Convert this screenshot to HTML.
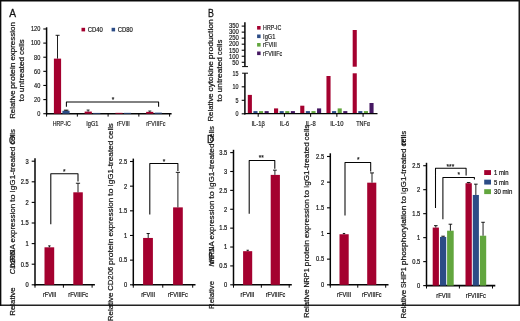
<!DOCTYPE html>
<html><head><meta charset="utf-8"><title>Figure</title>
<style>
html,body{margin:0;padding:0;background:#fff;}
svg{display:block;will-change:transform;opacity:0.999;font-family:"Liberation Sans",sans-serif;}
</style></head>
<body>
<svg width="520" height="321" viewBox="0 0 520 321">
<rect x="0" y="0" width="520" height="321" fill="#ffffff"/>
<rect x="0.00" y="0.00" width="520.00" height="1.50" fill="#0a0a0a"/>
<rect x="0.00" y="0.00" width="1.35" height="305.90" fill="#0a0a0a"/>
<rect x="0.00" y="304.55" width="520.00" height="1.35" fill="#0a0a0a"/>
<rect x="518.50" y="0.00" width="1.50" height="305.90" fill="#1a1a1a"/>
<text x="9.30" y="17.20" font-size="11.2" textLength="6.80" lengthAdjust="spacingAndGlyphs" fill="#141414" stroke="#141414" stroke-width="0.3">A</text>
<text transform="translate(14.80,118.80) rotate(-90)" font-size="8.1" textLength="28.30" lengthAdjust="spacingAndGlyphs" fill="#141414" stroke="#141414" stroke-width="0.22">Relative</text>
<text transform="translate(14.80,88.69) rotate(-90)" font-size="8.1" textLength="26.26" lengthAdjust="spacingAndGlyphs" fill="#141414" stroke="#141414" stroke-width="0.22">protein</text>
<text transform="translate(14.80,60.61) rotate(-90)" font-size="8.1" textLength="38.47" lengthAdjust="spacingAndGlyphs" fill="#141414" stroke="#141414" stroke-width="0.22">expression</text>
<text transform="translate(23.70,101.60) rotate(-90)" font-size="8.1" textLength="7.54" lengthAdjust="spacingAndGlyphs" fill="#141414" stroke="#141414" stroke-width="0.22">to</text>
<text transform="translate(23.70,92.25) rotate(-90)" font-size="8.1" textLength="35.48" lengthAdjust="spacingAndGlyphs" fill="#141414" stroke="#141414" stroke-width="0.22">untreated</text>
<text transform="translate(23.70,54.95) rotate(-90)" font-size="8.1" textLength="15.56" lengthAdjust="spacingAndGlyphs" fill="#141414" stroke="#141414" stroke-width="0.22">cells</text>
<line x1="46.60" y1="27.30" x2="46.60" y2="114.40" stroke="#050505" stroke-width="1.5"/>
<line x1="43.30" y1="113.70" x2="46.60" y2="113.70" stroke="#050505" stroke-width="1.1"/>
<text x="40.30" y="116.00" font-size="6.8" text-anchor="end" textLength="3.10" lengthAdjust="spacingAndGlyphs" fill="#141414" stroke="#141414" stroke-width="0.16">0</text>
<line x1="43.30" y1="99.58" x2="46.60" y2="99.58" stroke="#050505" stroke-width="1.1"/>
<text x="40.30" y="101.88" font-size="6.8" text-anchor="end" textLength="6.20" lengthAdjust="spacingAndGlyphs" fill="#141414" stroke="#141414" stroke-width="0.16">20</text>
<line x1="43.30" y1="85.46" x2="46.60" y2="85.46" stroke="#050505" stroke-width="1.1"/>
<text x="40.30" y="87.76" font-size="6.8" text-anchor="end" textLength="6.20" lengthAdjust="spacingAndGlyphs" fill="#141414" stroke="#141414" stroke-width="0.16">40</text>
<line x1="43.30" y1="71.34" x2="46.60" y2="71.34" stroke="#050505" stroke-width="1.1"/>
<text x="40.30" y="73.64" font-size="6.8" text-anchor="end" textLength="6.20" lengthAdjust="spacingAndGlyphs" fill="#141414" stroke="#141414" stroke-width="0.16">60</text>
<line x1="43.30" y1="57.22" x2="46.60" y2="57.22" stroke="#050505" stroke-width="1.1"/>
<text x="40.30" y="59.52" font-size="6.8" text-anchor="end" textLength="6.20" lengthAdjust="spacingAndGlyphs" fill="#141414" stroke="#141414" stroke-width="0.16">80</text>
<line x1="43.30" y1="43.10" x2="46.60" y2="43.10" stroke="#050505" stroke-width="1.1"/>
<text x="40.30" y="45.40" font-size="6.8" text-anchor="end" textLength="9.30" lengthAdjust="spacingAndGlyphs" fill="#141414" stroke="#141414" stroke-width="0.16">100</text>
<line x1="43.30" y1="28.98" x2="46.60" y2="28.98" stroke="#050505" stroke-width="1.1"/>
<text x="40.30" y="31.28" font-size="6.8" text-anchor="end" textLength="9.30" lengthAdjust="spacingAndGlyphs" fill="#141414" stroke="#141414" stroke-width="0.16">120</text>
<line x1="46.00" y1="113.70" x2="171.60" y2="113.70" stroke="#050505" stroke-width="1.6"/>
<line x1="46.60" y1="113.70" x2="46.60" y2="116.60" stroke="#050505" stroke-width="1.0"/>
<line x1="77.35" y1="113.70" x2="77.35" y2="116.60" stroke="#050505" stroke-width="1.0"/>
<line x1="108.10" y1="113.70" x2="108.10" y2="116.60" stroke="#050505" stroke-width="1.0"/>
<line x1="138.85" y1="113.70" x2="138.85" y2="116.60" stroke="#050505" stroke-width="1.0"/>
<line x1="169.60" y1="113.70" x2="169.60" y2="116.60" stroke="#050505" stroke-width="1.0"/>
<rect x="53.90" y="58.63" width="7.20" height="55.07" fill="#a4002f"/>
<rect x="62.40" y="110.81" width="7.20" height="2.89" fill="#2c4c86"/>
<rect x="84.65" y="111.58" width="7.20" height="2.12" fill="#a4002f"/>
<rect x="93.15" y="112.92" width="7.20" height="0.78" fill="#2c4c86"/>
<rect x="115.40" y="112.85" width="7.20" height="0.85" fill="#a4002f"/>
<rect x="123.90" y="112.85" width="7.20" height="0.85" fill="#2c4c86"/>
<rect x="146.15" y="111.86" width="7.20" height="1.84" fill="#a4002f"/>
<rect x="154.65" y="112.64" width="7.20" height="1.06" fill="#2c4c86"/>
<line x1="57.50" y1="58.60" x2="57.50" y2="35.30" stroke="#050505" stroke-width="0.9"/>
<line x1="55.60" y1="35.30" x2="59.60" y2="35.30" stroke="#050505" stroke-width="0.9"/>
<line x1="66.10" y1="110.80" x2="66.10" y2="109.90" stroke="#050505" stroke-width="1.0"/>
<line x1="63.90" y1="110.20" x2="68.40" y2="110.20" stroke="#050505" stroke-width="1.0"/>
<line x1="88.10" y1="111.60" x2="88.10" y2="110.00" stroke="#050505" stroke-width="0.9"/>
<line x1="86.60" y1="110.00" x2="89.60" y2="110.00" stroke="#050505" stroke-width="0.8"/>
<line x1="149.80" y1="111.90" x2="149.80" y2="111.00" stroke="#050505" stroke-width="0.9"/>
<line x1="148.30" y1="111.00" x2="151.30" y2="111.00" stroke="#050505" stroke-width="0.8"/>
<polyline points="66.40,106.80 66.40,101.95 158.60,101.95 158.60,106.80" fill="none" stroke="#050505" stroke-width="1.05" stroke-linejoin="round"/>
<text x="112.90" y="101.70" font-size="6.5" text-anchor="middle" fill="#141414" stroke="#141414" stroke-width="0.16">*</text>
<text x="61.70" y="125.70" font-size="6.8" text-anchor="middle" textLength="18.10" lengthAdjust="spacingAndGlyphs" fill="#141414" stroke="#141414" stroke-width="0.16">HRP-IC</text>
<text x="92.30" y="125.70" font-size="6.8" text-anchor="middle" textLength="12.20" lengthAdjust="spacingAndGlyphs" fill="#141414" stroke="#141414" stroke-width="0.16">IgG1</text>
<text x="123.30" y="125.70" font-size="6.8" text-anchor="middle" textLength="13.10" lengthAdjust="spacingAndGlyphs" fill="#141414" stroke="#141414" stroke-width="0.16">rFVIII</text>
<text x="155.80" y="125.70" font-size="6.8" text-anchor="middle" textLength="19.20" lengthAdjust="spacingAndGlyphs" fill="#141414" stroke="#141414" stroke-width="0.16">rFVIIIFc</text>
<rect x="81.50" y="27.80" width="3.60" height="3.60" fill="#a4002f"/>
<text x="87.80" y="31.70" font-size="6.4" textLength="15.10" lengthAdjust="spacingAndGlyphs" fill="#141414" stroke="#141414" stroke-width="0.16">CD40</text>
<rect x="111.60" y="27.80" width="3.50" height="3.60" fill="#2c4c86"/>
<text x="117.80" y="31.70" font-size="6.4" textLength="15.10" lengthAdjust="spacingAndGlyphs" fill="#141414" stroke="#141414" stroke-width="0.16">CD80</text>
<text x="207.90" y="17.20" font-size="11.2" textLength="5.90" lengthAdjust="spacingAndGlyphs" fill="#141414" stroke="#141414" stroke-width="0.3">B</text>
<text transform="translate(213.20,121.60) rotate(-90)" font-size="8.1" textLength="28.30" lengthAdjust="spacingAndGlyphs" fill="#141414" stroke="#141414" stroke-width="0.22">Relative</text>
<text transform="translate(213.20,91.49) rotate(-90)" font-size="8.1" textLength="30.47" lengthAdjust="spacingAndGlyphs" fill="#141414" stroke="#141414" stroke-width="0.22">cytokine</text>
<text transform="translate(213.20,59.20) rotate(-90)" font-size="8.1" textLength="40.06" lengthAdjust="spacingAndGlyphs" fill="#141414" stroke="#141414" stroke-width="0.22">production</text>
<text transform="translate(221.90,101.80) rotate(-90)" font-size="8.1" textLength="7.54" lengthAdjust="spacingAndGlyphs" fill="#141414" stroke="#141414" stroke-width="0.22">to</text>
<text transform="translate(221.90,92.45) rotate(-90)" font-size="8.1" textLength="35.48" lengthAdjust="spacingAndGlyphs" fill="#141414" stroke="#141414" stroke-width="0.22">untreated</text>
<text transform="translate(221.90,55.15) rotate(-90)" font-size="8.1" textLength="15.56" lengthAdjust="spacingAndGlyphs" fill="#141414" stroke="#141414" stroke-width="0.22">cells</text>
<line x1="244.90" y1="22.20" x2="244.90" y2="66.60" stroke="#050505" stroke-width="1.5"/>
<line x1="241.70" y1="26.10" x2="244.90" y2="26.10" stroke="#050505" stroke-width="1.1"/>
<text x="238.90" y="28.40" font-size="6.8" text-anchor="end" textLength="9.90" lengthAdjust="spacingAndGlyphs" fill="#141414" stroke="#141414" stroke-width="0.16">350</text>
<line x1="241.70" y1="32.13" x2="244.90" y2="32.13" stroke="#050505" stroke-width="1.1"/>
<text x="238.90" y="34.43" font-size="6.8" text-anchor="end" textLength="9.90" lengthAdjust="spacingAndGlyphs" fill="#141414" stroke="#141414" stroke-width="0.16">300</text>
<line x1="241.70" y1="38.16" x2="244.90" y2="38.16" stroke="#050505" stroke-width="1.1"/>
<text x="238.90" y="40.46" font-size="6.8" text-anchor="end" textLength="9.90" lengthAdjust="spacingAndGlyphs" fill="#141414" stroke="#141414" stroke-width="0.16">250</text>
<line x1="241.70" y1="44.19" x2="244.90" y2="44.19" stroke="#050505" stroke-width="1.1"/>
<text x="238.90" y="46.49" font-size="6.8" text-anchor="end" textLength="9.90" lengthAdjust="spacingAndGlyphs" fill="#141414" stroke="#141414" stroke-width="0.16">200</text>
<line x1="241.70" y1="50.22" x2="244.90" y2="50.22" stroke="#050505" stroke-width="1.1"/>
<text x="238.90" y="52.52" font-size="6.8" text-anchor="end" textLength="9.90" lengthAdjust="spacingAndGlyphs" fill="#141414" stroke="#141414" stroke-width="0.16">150</text>
<line x1="241.70" y1="56.25" x2="244.90" y2="56.25" stroke="#050505" stroke-width="1.1"/>
<text x="238.90" y="58.55" font-size="6.8" text-anchor="end" textLength="9.90" lengthAdjust="spacingAndGlyphs" fill="#141414" stroke="#141414" stroke-width="0.16">100</text>
<line x1="241.70" y1="62.28" x2="244.90" y2="62.28" stroke="#050505" stroke-width="1.1"/>
<text x="238.90" y="64.58" font-size="6.8" text-anchor="end" textLength="6.60" lengthAdjust="spacingAndGlyphs" fill="#141414" stroke="#141414" stroke-width="0.16">50</text>
<line x1="242.10" y1="66.60" x2="248.00" y2="66.60" stroke="#050505" stroke-width="1.0"/>
<line x1="242.10" y1="73.20" x2="248.00" y2="73.20" stroke="#050505" stroke-width="1.0"/>
<line x1="244.90" y1="73.20" x2="244.90" y2="114.50" stroke="#050505" stroke-width="1.5"/>
<line x1="241.70" y1="113.80" x2="244.90" y2="113.80" stroke="#050505" stroke-width="1.1"/>
<text x="238.50" y="116.30" font-size="6.8" text-anchor="end" textLength="3.00" lengthAdjust="spacingAndGlyphs" fill="#141414" stroke="#141414" stroke-width="0.16">0</text>
<line x1="241.70" y1="100.30" x2="244.90" y2="100.30" stroke="#050505" stroke-width="1.1"/>
<text x="238.50" y="102.80" font-size="6.8" text-anchor="end" textLength="3.00" lengthAdjust="spacingAndGlyphs" fill="#141414" stroke="#141414" stroke-width="0.16">5</text>
<line x1="241.70" y1="86.80" x2="244.90" y2="86.80" stroke="#050505" stroke-width="1.1"/>
<text x="238.50" y="89.30" font-size="6.8" text-anchor="end" textLength="6.00" lengthAdjust="spacingAndGlyphs" fill="#141414" stroke="#141414" stroke-width="0.16">10</text>
<text x="238.50" y="75.80" font-size="6.8" text-anchor="end" textLength="6.00" lengthAdjust="spacingAndGlyphs" fill="#141414" stroke="#141414" stroke-width="0.16">15</text>
<line x1="258.20" y1="113.80" x2="258.20" y2="116.80" stroke="#050505" stroke-width="1.0"/>
<line x1="284.42" y1="113.80" x2="284.42" y2="116.80" stroke="#050505" stroke-width="1.0"/>
<line x1="310.64" y1="113.80" x2="310.64" y2="116.80" stroke="#050505" stroke-width="1.0"/>
<line x1="336.86" y1="113.80" x2="336.86" y2="116.80" stroke="#050505" stroke-width="1.0"/>
<line x1="363.08" y1="113.80" x2="363.08" y2="116.80" stroke="#050505" stroke-width="1.0"/>
<rect x="247.80" y="94.90" width="4.10" height="18.90" fill="#a4002f"/>
<rect x="253.40" y="111.10" width="4.10" height="2.70" fill="#2c4c86"/>
<rect x="259.00" y="111.10" width="4.10" height="2.70" fill="#62a63e"/>
<rect x="264.60" y="111.10" width="4.10" height="2.70" fill="#451862"/>
<rect x="274.02" y="108.40" width="4.10" height="5.40" fill="#a4002f"/>
<rect x="279.62" y="111.10" width="4.10" height="2.70" fill="#2c4c86"/>
<rect x="285.22" y="111.10" width="4.10" height="2.70" fill="#62a63e"/>
<rect x="290.82" y="111.10" width="4.10" height="2.70" fill="#451862"/>
<rect x="300.24" y="105.70" width="4.10" height="8.10" fill="#a4002f"/>
<rect x="305.84" y="111.10" width="4.10" height="2.70" fill="#2c4c86"/>
<rect x="311.44" y="111.10" width="4.10" height="2.70" fill="#62a63e"/>
<rect x="317.04" y="108.40" width="4.10" height="5.40" fill="#451862"/>
<rect x="326.46" y="76.00" width="4.10" height="37.80" fill="#a4002f"/>
<rect x="332.06" y="111.10" width="4.10" height="2.70" fill="#2c4c86"/>
<rect x="337.66" y="108.40" width="4.10" height="5.40" fill="#62a63e"/>
<rect x="343.26" y="111.10" width="4.10" height="2.70" fill="#451862"/>
<rect x="352.68" y="73.30" width="4.10" height="40.50" fill="#a4002f"/>
<rect x="358.28" y="111.10" width="4.10" height="2.70" fill="#2c4c86"/>
<rect x="363.88" y="111.10" width="4.10" height="2.70" fill="#62a63e"/>
<rect x="369.48" y="103.00" width="4.10" height="10.80" fill="#451862"/>
<line x1="244.30" y1="113.60" x2="377.50" y2="113.60" stroke="#050505" stroke-width="1.2"/>
<rect x="352.68" y="30.00" width="4.10" height="36.70" fill="#a4002f"/>
<text x="258.20" y="125.80" font-size="6.8" text-anchor="middle" textLength="13.40" lengthAdjust="spacingAndGlyphs" fill="#141414" stroke="#141414" stroke-width="0.16">IL-1β</text>
<text x="284.42" y="125.80" font-size="6.8" text-anchor="middle" textLength="9.50" lengthAdjust="spacingAndGlyphs" fill="#141414" stroke="#141414" stroke-width="0.16">IL-6</text>
<text x="310.64" y="125.80" font-size="6.8" text-anchor="middle" textLength="10.00" lengthAdjust="spacingAndGlyphs" fill="#141414" stroke="#141414" stroke-width="0.16">IL-8</text>
<text x="336.86" y="125.80" font-size="6.8" text-anchor="middle" textLength="13.40" lengthAdjust="spacingAndGlyphs" fill="#141414" stroke="#141414" stroke-width="0.16">IL-10</text>
<text x="363.08" y="125.80" font-size="6.8" text-anchor="middle" textLength="13.80" lengthAdjust="spacingAndGlyphs" fill="#141414" stroke="#141414" stroke-width="0.16">TNFα</text>
<rect x="257.10" y="26.00" width="3.50" height="3.60" fill="#a4002f"/>
<text x="263.10" y="30.00" font-size="6.8" textLength="18.20" lengthAdjust="spacingAndGlyphs" fill="#141414" stroke="#141414" stroke-width="0.16">HRP-IC</text>
<rect x="257.10" y="34.50" width="3.50" height="3.60" fill="#2c4c86"/>
<text x="263.10" y="38.50" font-size="6.8" textLength="12.30" lengthAdjust="spacingAndGlyphs" fill="#141414" stroke="#141414" stroke-width="0.16">IgG1</text>
<rect x="257.10" y="43.00" width="3.50" height="3.60" fill="#62a63e"/>
<text x="263.10" y="47.00" font-size="6.8" textLength="13.70" lengthAdjust="spacingAndGlyphs" fill="#141414" stroke="#141414" stroke-width="0.16">rFVIII</text>
<rect x="257.10" y="51.50" width="3.50" height="3.60" fill="#451862"/>
<text x="263.10" y="55.50" font-size="6.8" textLength="19.10" lengthAdjust="spacingAndGlyphs" fill="#141414" stroke="#141414" stroke-width="0.16">rFVIIIFc</text>
<line x1="35.00" y1="158.20" x2="35.00" y2="285.50" stroke="#050505" stroke-width="1.5"/>
<line x1="31.70" y1="284.80" x2="35.00" y2="284.80" stroke="#050505" stroke-width="1.1"/>
<text x="28.80" y="287.15" font-size="7.2" text-anchor="end" textLength="3.20" lengthAdjust="spacingAndGlyphs" fill="#141414" stroke="#141414" stroke-width="0.22">0</text>
<line x1="31.70" y1="264.20" x2="35.00" y2="264.20" stroke="#050505" stroke-width="1.1"/>
<text x="28.80" y="266.55" font-size="7.2" text-anchor="end" textLength="8.00" lengthAdjust="spacingAndGlyphs" fill="#141414" stroke="#141414" stroke-width="0.22">0.5</text>
<line x1="31.70" y1="243.60" x2="35.00" y2="243.60" stroke="#050505" stroke-width="1.1"/>
<text x="28.80" y="245.95" font-size="7.2" text-anchor="end" textLength="3.20" lengthAdjust="spacingAndGlyphs" fill="#141414" stroke="#141414" stroke-width="0.22">1</text>
<line x1="31.70" y1="223.00" x2="35.00" y2="223.00" stroke="#050505" stroke-width="1.1"/>
<text x="28.80" y="225.35" font-size="7.2" text-anchor="end" textLength="8.00" lengthAdjust="spacingAndGlyphs" fill="#141414" stroke="#141414" stroke-width="0.22">1.5</text>
<line x1="31.70" y1="202.40" x2="35.00" y2="202.40" stroke="#050505" stroke-width="1.1"/>
<text x="28.80" y="204.75" font-size="7.2" text-anchor="end" textLength="3.20" lengthAdjust="spacingAndGlyphs" fill="#141414" stroke="#141414" stroke-width="0.22">2</text>
<line x1="31.70" y1="181.80" x2="35.00" y2="181.80" stroke="#050505" stroke-width="1.1"/>
<text x="28.80" y="184.15" font-size="7.2" text-anchor="end" textLength="8.00" lengthAdjust="spacingAndGlyphs" fill="#141414" stroke="#141414" stroke-width="0.22">2.5</text>
<line x1="31.70" y1="161.20" x2="35.00" y2="161.20" stroke="#050505" stroke-width="1.1"/>
<text x="28.80" y="163.55" font-size="7.2" text-anchor="end" textLength="3.20" lengthAdjust="spacingAndGlyphs" fill="#141414" stroke="#141414" stroke-width="0.22">3</text>
<line x1="34.40" y1="284.80" x2="94.90" y2="284.80" stroke="#050505" stroke-width="1.6"/>
<line x1="35.00" y1="284.80" x2="35.00" y2="287.70" stroke="#050505" stroke-width="1.0"/>
<line x1="63.40" y1="284.80" x2="63.40" y2="287.70" stroke="#050505" stroke-width="1.0"/>
<line x1="92.10" y1="284.80" x2="92.10" y2="287.70" stroke="#050505" stroke-width="1.0"/>
<rect x="44.50" y="247.31" width="9.70" height="37.49" fill="#a4002f"/>
<rect x="73.30" y="192.31" width="9.50" height="92.49" fill="#a4002f"/>
<line x1="49.40" y1="247.31" x2="49.40" y2="245.87" stroke="#050505" stroke-width="0.9"/>
<line x1="48.20" y1="245.87" x2="50.60" y2="245.87" stroke="#050505" stroke-width="0.9"/>
<line x1="78.00" y1="192.31" x2="78.00" y2="183.24" stroke="#050505" stroke-width="0.9"/>
<line x1="75.90" y1="183.24" x2="80.10" y2="183.24" stroke="#050505" stroke-width="0.9"/>
<polyline points="50.80,224.30 50.80,173.80 78.00,173.80 78.00,181.50" fill="none" stroke="#050505" stroke-width="1.05" stroke-linejoin="round"/>
<text x="64.30" y="173.80" font-size="6.5" text-anchor="middle" fill="#141414" stroke="#141414" stroke-width="0.16">*</text>
<text x="49.70" y="297.10" font-size="7.2" text-anchor="middle" textLength="13.40" lengthAdjust="spacingAndGlyphs" fill="#141414" stroke="#141414" stroke-width="0.22">rFVIII</text>
<text x="78.20" y="297.10" font-size="7.2" text-anchor="middle" textLength="19.80" lengthAdjust="spacingAndGlyphs" fill="#141414" stroke="#141414" stroke-width="0.22">rFVIIIFc</text>
<text x="9.00" y="144.30" font-size="11.2" textLength="6.20" lengthAdjust="spacingAndGlyphs" fill="#141414" stroke="#141414" stroke-width="0.3">C</text>
<text transform="translate(14.60,315.70) rotate(-90)" font-size="8.1" textLength="28.30" lengthAdjust="spacingAndGlyphs" fill="#141414" stroke="#141414" stroke-width="0.22">Relative</text>
<text transform="translate(14.60,274.20) rotate(-90)" font-size="8.1" textLength="23.40" lengthAdjust="spacingAndGlyphs" font-style="italic" fill="#141414" stroke="#141414" stroke-width="0.22">CD206</text>
<text transform="translate(14.60,267.20) rotate(-90)" font-size="8.1" textLength="22.83" lengthAdjust="spacingAndGlyphs" fill="#141414" stroke="#141414" stroke-width="0.22">mRNA</text>
<text transform="translate(14.60,242.54) rotate(-90)" font-size="8.1" textLength="38.80" lengthAdjust="spacingAndGlyphs" fill="#141414" stroke="#141414" stroke-width="0.22">expression</text>
<text transform="translate(14.60,201.91) rotate(-90)" font-size="8.1" textLength="7.60" lengthAdjust="spacingAndGlyphs" fill="#141414" stroke="#141414" stroke-width="0.22">to</text>
<text transform="translate(14.60,192.47) rotate(-90)" font-size="8.1" textLength="45.80" lengthAdjust="spacingAndGlyphs" fill="#141414" stroke="#141414" stroke-width="0.22">IgG1-treated</text>
<text transform="translate(14.60,144.84) rotate(-90)" font-size="8.1" textLength="15.70" lengthAdjust="spacingAndGlyphs" fill="#141414" stroke="#141414" stroke-width="0.22">cells</text>
<line x1="133.30" y1="158.60" x2="133.30" y2="285.50" stroke="#050505" stroke-width="1.5"/>
<line x1="130.00" y1="284.80" x2="133.30" y2="284.80" stroke="#050505" stroke-width="1.1"/>
<text x="127.10" y="287.15" font-size="7.2" text-anchor="end" textLength="3.20" lengthAdjust="spacingAndGlyphs" fill="#141414" stroke="#141414" stroke-width="0.22">0</text>
<line x1="130.00" y1="260.14" x2="133.30" y2="260.14" stroke="#050505" stroke-width="1.1"/>
<text x="127.10" y="262.49" font-size="7.2" text-anchor="end" textLength="8.00" lengthAdjust="spacingAndGlyphs" fill="#141414" stroke="#141414" stroke-width="0.22">0.5</text>
<line x1="130.00" y1="235.48" x2="133.30" y2="235.48" stroke="#050505" stroke-width="1.1"/>
<text x="127.10" y="237.83" font-size="7.2" text-anchor="end" textLength="3.20" lengthAdjust="spacingAndGlyphs" fill="#141414" stroke="#141414" stroke-width="0.22">1</text>
<line x1="130.00" y1="210.82" x2="133.30" y2="210.82" stroke="#050505" stroke-width="1.1"/>
<text x="127.10" y="213.17" font-size="7.2" text-anchor="end" textLength="8.00" lengthAdjust="spacingAndGlyphs" fill="#141414" stroke="#141414" stroke-width="0.22">1.5</text>
<line x1="130.00" y1="186.16" x2="133.30" y2="186.16" stroke="#050505" stroke-width="1.1"/>
<text x="127.10" y="188.51" font-size="7.2" text-anchor="end" textLength="3.20" lengthAdjust="spacingAndGlyphs" fill="#141414" stroke="#141414" stroke-width="0.22">2</text>
<line x1="130.00" y1="161.50" x2="133.30" y2="161.50" stroke="#050505" stroke-width="1.1"/>
<text x="127.10" y="163.85" font-size="7.2" text-anchor="end" textLength="8.00" lengthAdjust="spacingAndGlyphs" fill="#141414" stroke="#141414" stroke-width="0.22">2.5</text>
<line x1="132.70" y1="284.80" x2="195.50" y2="284.80" stroke="#050505" stroke-width="1.6"/>
<line x1="133.30" y1="284.80" x2="133.30" y2="287.70" stroke="#050505" stroke-width="1.0"/>
<line x1="162.75" y1="284.80" x2="162.75" y2="287.70" stroke="#050505" stroke-width="1.0"/>
<line x1="192.70" y1="284.80" x2="192.70" y2="287.70" stroke="#050505" stroke-width="1.0"/>
<rect x="143.10" y="237.95" width="9.80" height="46.85" fill="#a4002f"/>
<rect x="173.10" y="207.37" width="9.70" height="77.43" fill="#a4002f"/>
<line x1="148.20" y1="237.95" x2="148.20" y2="233.51" stroke="#050505" stroke-width="0.9"/>
<line x1="146.60" y1="233.51" x2="149.80" y2="233.51" stroke="#050505" stroke-width="0.9"/>
<line x1="177.90" y1="207.37" x2="177.90" y2="172.35" stroke="#050505" stroke-width="0.9"/>
<line x1="175.80" y1="172.35" x2="180.00" y2="172.35" stroke="#050505" stroke-width="0.9"/>
<polyline points="149.80,214.50 149.80,163.40 177.90,163.40 177.90,170.90" fill="none" stroke="#050505" stroke-width="1.05" stroke-linejoin="round"/>
<text x="163.90" y="163.80" font-size="6.5" text-anchor="middle" fill="#141414" stroke="#141414" stroke-width="0.16">*</text>
<text x="148.10" y="297.10" font-size="7.2" text-anchor="middle" textLength="13.90" lengthAdjust="spacingAndGlyphs" fill="#141414" stroke="#141414" stroke-width="0.22">rFVIII</text>
<text x="177.90" y="297.10" font-size="7.2" text-anchor="middle" textLength="19.80" lengthAdjust="spacingAndGlyphs" fill="#141414" stroke="#141414" stroke-width="0.22">rFVIIIFc</text>
<text transform="translate(112.60,321.20) rotate(-90)" font-size="8.1" textLength="28.55" lengthAdjust="spacingAndGlyphs" fill="#141414" stroke="#141414" stroke-width="0.22">Relative</text>
<text transform="translate(112.60,290.82) rotate(-90)" font-size="8.1" textLength="24.06" lengthAdjust="spacingAndGlyphs" fill="#141414" stroke="#141414" stroke-width="0.22">CD206</text>
<text transform="translate(112.60,264.93) rotate(-90)" font-size="8.1" textLength="26.49" lengthAdjust="spacingAndGlyphs" fill="#141414" stroke="#141414" stroke-width="0.22">protein</text>
<text transform="translate(112.60,236.61) rotate(-90)" font-size="8.1" textLength="38.80" lengthAdjust="spacingAndGlyphs" fill="#141414" stroke="#141414" stroke-width="0.22">expression</text>
<text transform="translate(112.60,195.97) rotate(-90)" font-size="8.1" textLength="7.60" lengthAdjust="spacingAndGlyphs" fill="#141414" stroke="#141414" stroke-width="0.22">to</text>
<text transform="translate(112.60,186.54) rotate(-90)" font-size="8.1" textLength="45.80" lengthAdjust="spacingAndGlyphs" fill="#141414" stroke="#141414" stroke-width="0.22">IgG1-treated</text>
<text transform="translate(112.60,138.90) rotate(-90)" font-size="8.1" textLength="15.70" lengthAdjust="spacingAndGlyphs" fill="#141414" stroke="#141414" stroke-width="0.22">cells</text>
<line x1="233.50" y1="149.80" x2="233.50" y2="285.50" stroke="#050505" stroke-width="1.5"/>
<line x1="230.20" y1="284.80" x2="233.50" y2="284.80" stroke="#050505" stroke-width="1.1"/>
<text x="227.30" y="287.15" font-size="7.2" text-anchor="end" textLength="3.20" lengthAdjust="spacingAndGlyphs" fill="#141414" stroke="#141414" stroke-width="0.22">0</text>
<line x1="230.20" y1="265.91" x2="233.50" y2="265.91" stroke="#050505" stroke-width="1.1"/>
<text x="227.30" y="268.26" font-size="7.2" text-anchor="end" textLength="8.00" lengthAdjust="spacingAndGlyphs" fill="#141414" stroke="#141414" stroke-width="0.22">0.5</text>
<line x1="230.20" y1="247.03" x2="233.50" y2="247.03" stroke="#050505" stroke-width="1.1"/>
<text x="227.30" y="249.38" font-size="7.2" text-anchor="end" textLength="3.20" lengthAdjust="spacingAndGlyphs" fill="#141414" stroke="#141414" stroke-width="0.22">1</text>
<line x1="230.20" y1="228.14" x2="233.50" y2="228.14" stroke="#050505" stroke-width="1.1"/>
<text x="227.30" y="230.49" font-size="7.2" text-anchor="end" textLength="8.00" lengthAdjust="spacingAndGlyphs" fill="#141414" stroke="#141414" stroke-width="0.22">1.5</text>
<line x1="230.20" y1="209.26" x2="233.50" y2="209.26" stroke="#050505" stroke-width="1.1"/>
<text x="227.30" y="211.61" font-size="7.2" text-anchor="end" textLength="3.20" lengthAdjust="spacingAndGlyphs" fill="#141414" stroke="#141414" stroke-width="0.22">2</text>
<line x1="230.20" y1="190.37" x2="233.50" y2="190.37" stroke="#050505" stroke-width="1.1"/>
<text x="227.30" y="192.72" font-size="7.2" text-anchor="end" textLength="8.00" lengthAdjust="spacingAndGlyphs" fill="#141414" stroke="#141414" stroke-width="0.22">2.5</text>
<line x1="230.20" y1="171.49" x2="233.50" y2="171.49" stroke="#050505" stroke-width="1.1"/>
<text x="227.30" y="173.84" font-size="7.2" text-anchor="end" textLength="3.20" lengthAdjust="spacingAndGlyphs" fill="#141414" stroke="#141414" stroke-width="0.22">3</text>
<line x1="230.20" y1="152.60" x2="233.50" y2="152.60" stroke="#050505" stroke-width="1.1"/>
<text x="227.30" y="154.95" font-size="7.2" text-anchor="end" textLength="8.00" lengthAdjust="spacingAndGlyphs" fill="#141414" stroke="#141414" stroke-width="0.22">3.5</text>
<line x1="232.90" y1="284.80" x2="291.80" y2="284.80" stroke="#050505" stroke-width="1.6"/>
<line x1="233.50" y1="284.80" x2="233.50" y2="287.70" stroke="#050505" stroke-width="1.0"/>
<line x1="261.35" y1="284.80" x2="261.35" y2="287.70" stroke="#050505" stroke-width="1.0"/>
<line x1="289.20" y1="284.80" x2="289.20" y2="287.70" stroke="#050505" stroke-width="1.0"/>
<rect x="243.10" y="251.18" width="9.10" height="33.62" fill="#a4002f"/>
<rect x="270.70" y="174.89" width="9.20" height="109.91" fill="#a4002f"/>
<line x1="247.70" y1="251.18" x2="247.70" y2="250.24" stroke="#050505" stroke-width="0.9"/>
<line x1="246.50" y1="250.24" x2="248.90" y2="250.24" stroke="#050505" stroke-width="0.9"/>
<line x1="274.90" y1="174.89" x2="274.90" y2="170.16" stroke="#050505" stroke-width="0.9"/>
<line x1="273.00" y1="170.16" x2="276.80" y2="170.16" stroke="#050505" stroke-width="0.9"/>
<polyline points="249.20,213.70 249.20,160.40 274.80,160.40 274.80,168.70" fill="none" stroke="#050505" stroke-width="1.05" stroke-linejoin="round"/>
<text x="261.30" y="159.80" font-size="6.5" text-anchor="middle" fill="#141414" stroke="#141414" stroke-width="0.16">**</text>
<text x="247.50" y="297.10" font-size="7.2" text-anchor="middle" textLength="13.90" lengthAdjust="spacingAndGlyphs" fill="#141414" stroke="#141414" stroke-width="0.22">rFVIII</text>
<text x="275.50" y="297.10" font-size="7.2" text-anchor="middle" textLength="19.60" lengthAdjust="spacingAndGlyphs" fill="#141414" stroke="#141414" stroke-width="0.22">rFVIIIFc</text>
<text x="207.00" y="143.40" font-size="11.2" textLength="7.00" lengthAdjust="spacingAndGlyphs" fill="#141414" stroke="#141414" stroke-width="0.3">D</text>
<text transform="translate(213.50,308.90) rotate(-90)" font-size="8.1" textLength="27.90" lengthAdjust="spacingAndGlyphs" fill="#141414" stroke="#141414" stroke-width="0.22">Relative</text>
<text transform="translate(213.50,266.50) rotate(-90)" font-size="8.1" textLength="18.70" lengthAdjust="spacingAndGlyphs" font-style="italic" fill="#141414" stroke="#141414" stroke-width="0.22">NRP1</text>
<text transform="translate(213.50,264.10) rotate(-90)" font-size="8.1" textLength="22.83" lengthAdjust="spacingAndGlyphs" fill="#141414" stroke="#141414" stroke-width="0.22">mRNA</text>
<text transform="translate(213.50,239.44) rotate(-90)" font-size="8.1" textLength="38.80" lengthAdjust="spacingAndGlyphs" fill="#141414" stroke="#141414" stroke-width="0.22">expression</text>
<text transform="translate(213.50,198.81) rotate(-90)" font-size="8.1" textLength="7.60" lengthAdjust="spacingAndGlyphs" fill="#141414" stroke="#141414" stroke-width="0.22">to</text>
<text transform="translate(213.50,189.37) rotate(-90)" font-size="8.1" textLength="45.80" lengthAdjust="spacingAndGlyphs" fill="#141414" stroke="#141414" stroke-width="0.22">IgG1-treated</text>
<text transform="translate(213.50,141.74) rotate(-90)" font-size="8.1" textLength="15.70" lengthAdjust="spacingAndGlyphs" fill="#141414" stroke="#141414" stroke-width="0.22">cells</text>
<line x1="330.30" y1="153.30" x2="330.30" y2="285.50" stroke="#050505" stroke-width="1.5"/>
<line x1="327.00" y1="284.80" x2="330.30" y2="284.80" stroke="#050505" stroke-width="1.1"/>
<text x="324.10" y="287.15" font-size="7.2" text-anchor="end" textLength="3.20" lengthAdjust="spacingAndGlyphs" fill="#141414" stroke="#141414" stroke-width="0.22">0</text>
<line x1="327.00" y1="259.14" x2="330.30" y2="259.14" stroke="#050505" stroke-width="1.1"/>
<text x="324.10" y="261.49" font-size="7.2" text-anchor="end" textLength="8.00" lengthAdjust="spacingAndGlyphs" fill="#141414" stroke="#141414" stroke-width="0.22">0.5</text>
<line x1="327.00" y1="233.48" x2="330.30" y2="233.48" stroke="#050505" stroke-width="1.1"/>
<text x="324.10" y="235.83" font-size="7.2" text-anchor="end" textLength="3.20" lengthAdjust="spacingAndGlyphs" fill="#141414" stroke="#141414" stroke-width="0.22">1</text>
<line x1="327.00" y1="207.82" x2="330.30" y2="207.82" stroke="#050505" stroke-width="1.1"/>
<text x="324.10" y="210.17" font-size="7.2" text-anchor="end" textLength="8.00" lengthAdjust="spacingAndGlyphs" fill="#141414" stroke="#141414" stroke-width="0.22">1.5</text>
<line x1="327.00" y1="182.16" x2="330.30" y2="182.16" stroke="#050505" stroke-width="1.1"/>
<text x="324.10" y="184.51" font-size="7.2" text-anchor="end" textLength="3.20" lengthAdjust="spacingAndGlyphs" fill="#141414" stroke="#141414" stroke-width="0.22">2</text>
<line x1="327.00" y1="156.50" x2="330.30" y2="156.50" stroke="#050505" stroke-width="1.1"/>
<text x="324.10" y="158.85" font-size="7.2" text-anchor="end" textLength="8.00" lengthAdjust="spacingAndGlyphs" fill="#141414" stroke="#141414" stroke-width="0.22">2.5</text>
<line x1="329.70" y1="284.80" x2="388.50" y2="284.80" stroke="#050505" stroke-width="1.6"/>
<line x1="330.30" y1="284.80" x2="330.30" y2="287.70" stroke="#050505" stroke-width="1.0"/>
<line x1="357.75" y1="284.80" x2="357.75" y2="287.70" stroke="#050505" stroke-width="1.0"/>
<line x1="385.70" y1="284.80" x2="385.70" y2="287.70" stroke="#050505" stroke-width="1.0"/>
<rect x="339.50" y="234.25" width="9.20" height="50.55" fill="#a4002f"/>
<rect x="367.20" y="182.67" width="9.10" height="102.13" fill="#a4002f"/>
<line x1="344.00" y1="234.25" x2="344.00" y2="233.48" stroke="#050505" stroke-width="0.9"/>
<line x1="342.80" y1="233.48" x2="345.20" y2="233.48" stroke="#050505" stroke-width="0.9"/>
<line x1="372.00" y1="182.67" x2="372.00" y2="172.92" stroke="#050505" stroke-width="0.9"/>
<line x1="370.00" y1="172.92" x2="374.00" y2="172.92" stroke="#050505" stroke-width="0.9"/>
<polyline points="345.00,215.60 345.00,162.40 370.70,162.40 370.70,171.50" fill="none" stroke="#050505" stroke-width="1.05" stroke-linejoin="round"/>
<text x="358.20" y="162.20" font-size="6.5" text-anchor="middle" fill="#141414" stroke="#141414" stroke-width="0.16">*</text>
<text x="344.10" y="297.10" font-size="7.2" text-anchor="middle" textLength="14.00" lengthAdjust="spacingAndGlyphs" fill="#141414" stroke="#141414" stroke-width="0.22">rFVIII</text>
<text x="371.80" y="297.10" font-size="7.2" text-anchor="middle" textLength="19.50" lengthAdjust="spacingAndGlyphs" fill="#141414" stroke="#141414" stroke-width="0.22">rFVIIIFc</text>
<text transform="translate(309.40,318.00) rotate(-90)" font-size="8.1" textLength="28.55" lengthAdjust="spacingAndGlyphs" fill="#141414" stroke="#141414" stroke-width="0.22">Relative</text>
<text transform="translate(309.40,287.62) rotate(-90)" font-size="8.1" textLength="19.36" lengthAdjust="spacingAndGlyphs" fill="#141414" stroke="#141414" stroke-width="0.22">NRP1</text>
<text transform="translate(309.40,266.43) rotate(-90)" font-size="8.1" textLength="26.49" lengthAdjust="spacingAndGlyphs" fill="#141414" stroke="#141414" stroke-width="0.22">protein</text>
<text transform="translate(309.40,238.11) rotate(-90)" font-size="8.1" textLength="38.80" lengthAdjust="spacingAndGlyphs" fill="#141414" stroke="#141414" stroke-width="0.22">expression</text>
<text transform="translate(309.40,197.47) rotate(-90)" font-size="8.1" textLength="7.60" lengthAdjust="spacingAndGlyphs" fill="#141414" stroke="#141414" stroke-width="0.22">to</text>
<text transform="translate(309.40,188.04) rotate(-90)" font-size="8.1" textLength="45.80" lengthAdjust="spacingAndGlyphs" fill="#141414" stroke="#141414" stroke-width="0.22">IgG1-treated</text>
<text transform="translate(309.40,140.40) rotate(-90)" font-size="8.1" textLength="15.70" lengthAdjust="spacingAndGlyphs" fill="#141414" stroke="#141414" stroke-width="0.22">cells</text>
<line x1="426.50" y1="162.80" x2="426.50" y2="286.30" stroke="#050505" stroke-width="1.5"/>
<line x1="423.20" y1="285.60" x2="426.50" y2="285.60" stroke="#050505" stroke-width="1.1"/>
<text x="420.30" y="287.95" font-size="7.2" text-anchor="end" textLength="3.20" lengthAdjust="spacingAndGlyphs" fill="#141414" stroke="#141414" stroke-width="0.22">0</text>
<line x1="423.20" y1="261.62" x2="426.50" y2="261.62" stroke="#050505" stroke-width="1.1"/>
<text x="420.30" y="263.97" font-size="7.2" text-anchor="end" textLength="8.00" lengthAdjust="spacingAndGlyphs" fill="#141414" stroke="#141414" stroke-width="0.22">0.5</text>
<line x1="423.20" y1="237.64" x2="426.50" y2="237.64" stroke="#050505" stroke-width="1.1"/>
<text x="420.30" y="239.99" font-size="7.2" text-anchor="end" textLength="3.20" lengthAdjust="spacingAndGlyphs" fill="#141414" stroke="#141414" stroke-width="0.22">1</text>
<line x1="423.20" y1="213.66" x2="426.50" y2="213.66" stroke="#050505" stroke-width="1.1"/>
<text x="420.30" y="216.01" font-size="7.2" text-anchor="end" textLength="8.00" lengthAdjust="spacingAndGlyphs" fill="#141414" stroke="#141414" stroke-width="0.22">1.5</text>
<line x1="423.20" y1="189.68" x2="426.50" y2="189.68" stroke="#050505" stroke-width="1.1"/>
<text x="420.30" y="192.03" font-size="7.2" text-anchor="end" textLength="3.20" lengthAdjust="spacingAndGlyphs" fill="#141414" stroke="#141414" stroke-width="0.22">2</text>
<line x1="423.20" y1="165.70" x2="426.50" y2="165.70" stroke="#050505" stroke-width="1.1"/>
<text x="420.30" y="168.05" font-size="7.2" text-anchor="end" textLength="8.00" lengthAdjust="spacingAndGlyphs" fill="#141414" stroke="#141414" stroke-width="0.22">2.5</text>
<line x1="425.90" y1="285.60" x2="495.30" y2="285.60" stroke="#050505" stroke-width="1.6"/>
<line x1="426.50" y1="285.60" x2="426.50" y2="288.50" stroke="#050505" stroke-width="1.0"/>
<line x1="459.40" y1="285.60" x2="459.40" y2="288.50" stroke="#050505" stroke-width="1.0"/>
<line x1="492.50" y1="285.60" x2="492.50" y2="288.50" stroke="#050505" stroke-width="1.0"/>
<rect x="432.70" y="227.57" width="6.20" height="58.03" fill="#a4002f"/>
<line x1="435.80" y1="227.57" x2="435.80" y2="225.65" stroke="#050505" stroke-width="0.9"/>
<line x1="434.00" y1="225.65" x2="437.60" y2="225.65" stroke="#050505" stroke-width="0.9"/>
<rect x="440.00" y="236.92" width="6.20" height="48.68" fill="#2c4c86"/>
<line x1="443.10" y1="236.92" x2="443.10" y2="236.20" stroke="#050505" stroke-width="0.9"/>
<line x1="441.30" y1="236.20" x2="444.90" y2="236.20" stroke="#050505" stroke-width="0.9"/>
<rect x="447.10" y="230.69" width="6.60" height="54.91" fill="#62a63e"/>
<line x1="450.40" y1="230.69" x2="450.40" y2="224.21" stroke="#050505" stroke-width="0.9"/>
<line x1="448.60" y1="224.21" x2="452.20" y2="224.21" stroke="#050505" stroke-width="0.9"/>
<rect x="465.50" y="183.21" width="6.30" height="102.39" fill="#a4002f"/>
<line x1="468.65" y1="183.21" x2="468.65" y2="182.49" stroke="#050505" stroke-width="0.9"/>
<line x1="466.85" y1="182.49" x2="470.45" y2="182.49" stroke="#050505" stroke-width="0.9"/>
<rect x="472.80" y="194.96" width="6.10" height="90.64" fill="#2c4c86"/>
<line x1="475.85" y1="194.96" x2="475.85" y2="184.16" stroke="#050505" stroke-width="0.9"/>
<line x1="474.05" y1="184.16" x2="477.65" y2="184.16" stroke="#050505" stroke-width="0.9"/>
<rect x="479.90" y="235.72" width="6.30" height="49.88" fill="#62a63e"/>
<line x1="483.05" y1="235.72" x2="483.05" y2="222.29" stroke="#050505" stroke-width="0.9"/>
<line x1="481.25" y1="222.29" x2="484.85" y2="222.29" stroke="#050505" stroke-width="0.9"/>
<polyline points="435.50,207.90 435.50,168.30 466.10,168.30 466.10,175.40" fill="none" stroke="#050505" stroke-width="1.05" stroke-linejoin="round"/>
<polyline points="442.90,219.30 442.90,177.40 474.40,177.40 474.40,179.60" fill="none" stroke="#050505" stroke-width="1.05" stroke-linejoin="round"/>
<text x="450.40" y="168.50" font-size="6.5" text-anchor="middle" fill="#141414" stroke="#141414" stroke-width="0.16">***</text>
<text x="458.70" y="177.30" font-size="6.5" text-anchor="middle" fill="#141414" stroke="#141414" stroke-width="0.16">*</text>
<text x="443.40" y="297.60" font-size="7.2" text-anchor="middle" textLength="14.30" lengthAdjust="spacingAndGlyphs" fill="#141414" stroke="#141414" stroke-width="0.22">rFVIII</text>
<text x="475.80" y="297.60" font-size="7.2" text-anchor="middle" textLength="20.00" lengthAdjust="spacingAndGlyphs" fill="#141414" stroke="#141414" stroke-width="0.22">rFVIIIFc</text>
<rect x="484.20" y="170.10" width="6.80" height="4.90" fill="#a4002f"/>
<text x="494.10" y="174.95" font-size="7.2" textLength="14.40" lengthAdjust="spacingAndGlyphs" fill="#141414" stroke="#141414" stroke-width="0.22">1 min</text>
<rect x="484.20" y="179.65" width="6.80" height="4.90" fill="#2c4c86"/>
<text x="494.10" y="184.50" font-size="7.2" textLength="14.40" lengthAdjust="spacingAndGlyphs" fill="#141414" stroke="#141414" stroke-width="0.22">5 min</text>
<rect x="484.20" y="189.20" width="6.80" height="4.90" fill="#62a63e"/>
<text x="494.10" y="194.05" font-size="7.2" textLength="18.20" lengthAdjust="spacingAndGlyphs" fill="#141414" stroke="#141414" stroke-width="0.22">30 min</text>
<text x="400.90" y="144.60" font-size="11.2" textLength="5.20" lengthAdjust="spacingAndGlyphs" fill="#141414" stroke="#141414" stroke-width="0.3">E</text>
<text transform="translate(405.70,318.50) rotate(-90)" font-size="8.1" textLength="28.55" lengthAdjust="spacingAndGlyphs" fill="#141414" stroke="#141414" stroke-width="0.22">Relative</text>
<text transform="translate(405.70,288.12) rotate(-90)" font-size="8.1" textLength="20.99" lengthAdjust="spacingAndGlyphs" fill="#141414" stroke="#141414" stroke-width="0.22">SHIP1</text>
<text transform="translate(405.70,265.30) rotate(-90)" font-size="8.1" textLength="59.85" lengthAdjust="spacingAndGlyphs" fill="#141414" stroke="#141414" stroke-width="0.22">phosphorylation</text>
<text transform="translate(405.70,203.62) rotate(-90)" font-size="8.1" textLength="7.60" lengthAdjust="spacingAndGlyphs" fill="#141414" stroke="#141414" stroke-width="0.22">to</text>
<text transform="translate(405.70,194.19) rotate(-90)" font-size="8.1" textLength="45.80" lengthAdjust="spacingAndGlyphs" fill="#141414" stroke="#141414" stroke-width="0.22">IgG1-treated</text>
<text transform="translate(405.70,146.56) rotate(-90)" font-size="8.1" textLength="15.70" lengthAdjust="spacingAndGlyphs" fill="#141414" stroke="#141414" stroke-width="0.22">cells</text>
</svg>
</body></html>
